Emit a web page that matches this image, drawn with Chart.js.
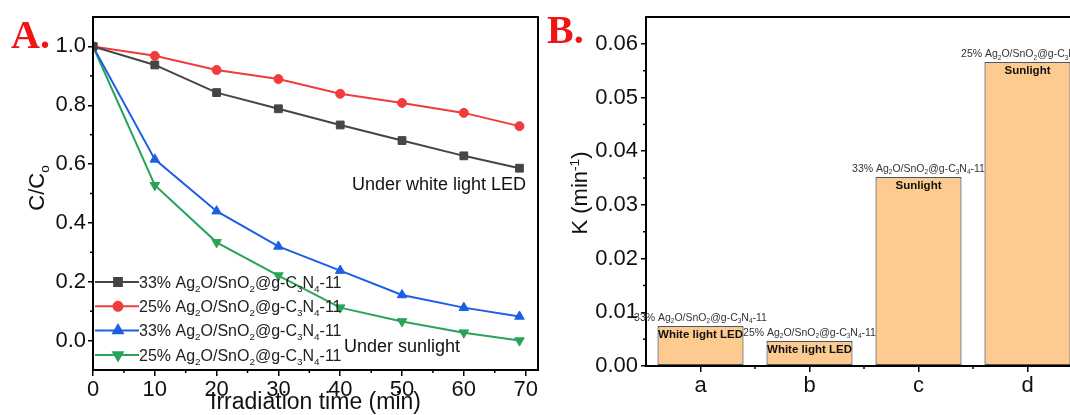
<!DOCTYPE html>
<html>
<head>
<meta charset="utf-8">
<script src="https://cdn.jsdelivr.net/npm/chart.js@4.4.0/dist/chart.umd.min.js"></script>
<style>
  html, body { margin: 0; padding: 0; background: #fff; overflow: hidden; }
  #wrap { position: relative; width: 1070px; height: 415px; overflow: hidden; background: #fff; }
  #chartA { position: absolute; left: 0; top: 0; }
  #chartB { position: absolute; left: 545px; top: 0; }
</style>
</head>
<body>
<div id="wrap">
  <canvas id="chartA" width="545" height="415"></canvas>
  <canvas id="chartB" width="545" height="415"></canvas>
</div>
<script>
// ---- panel A data (C/Co vs time) ----
const times = [0, 10, 20, 30, 40, 50, 60, 69];
const led33 = [1.0, 0.937, 0.843, 0.788, 0.733, 0.680, 0.628, 0.586];
const led25 = [1.0, 0.968, 0.920, 0.889, 0.839, 0.808, 0.774, 0.729];
const sun33 = [1.0, 0.616, 0.440, 0.320, 0.238, 0.155, 0.112, 0.082];
const sun25 = [1.0, 0.528, 0.334, 0.221, 0.112, 0.065, 0.027, 0.0];
const seriesNames = [
  '33% Ag_2O/SnO_2@g-C_3N_4-11',
  '25% Ag_2O/SnO_2@g-C_3N_4-11',
  '33% Ag_2O/SnO_2@g-C_3N_4-11',
  '25% Ag_2O/SnO_2@g-C_3N_4-11'
];
const xTicksA = [0, 10, 20, 30, 40, 50, 60, 70];
const yTicksA = [0.0, 0.2, 0.4, 0.6, 0.8, 1.0];

// ---- panel B data (rate constant K) ----
const catsB = ['a', 'b', 'c', 'd'];
const kValues = [0.00745, 0.00466, 0.0352, 0.0566];
const samplesB = [
  '33% Ag_2O/SnO_2@g-C_3N_4-11',
  '25% Ag_2O/SnO_2@g-C_3N_4-11',
  '33% Ag_2O/SnO_2@g-C_3N_4-11',
  '25% Ag_2O/SnO_2@g-C_3N_4-11'
];
const lightB = ['White light LED', 'White light LED', 'Sunlight', 'Sunlight'];
const yTicksB = [0.00, 0.01, 0.02, 0.03, 0.04, 0.05, 0.06];

// styles
const lineColors = ['#454545', '#f03c3c', '#1c5fe3', '#29a35a'];
const markers = ['rect', 'circle', 'triangle', 'triangle'];
const markerRot = [0, 0, 0, 180];
const markerSize = [5.5, 4.5, 5.5, 5.5];

const FAM = "'Liberation Sans', Arial, sans-serif";
Chart.defaults.font.family = FAM;
Chart.defaults.color = '#111';

// text with _x subscripts and ^{..} superscripts
function parseRich(str) {
  var parts = [];
  var buf = '';
  for (var i = 0; i < str.length; i++) {
    var c = str[i];
    if (c === '_') {
      if (buf) parts.push({t: buf, k: 0});
      buf = '';
      parts.push({t: str[i + 1], k: -1});
      i++;
    } else if (c === '^' && str[i + 1] === '{') {
      if (buf) parts.push({t: buf, k: 0});
      buf = '';
      var end = str.indexOf('}', i);
      parts.push({t: str.slice(i + 2, end), k: 1});
      i = end;
    } else {
      buf += c;
    }
  }
  if (buf) parts.push({t: buf, k: 0});
  return parts;
}

function drawRich(ctx, str, x, y, size, opt) {
  opt = opt || {};
  var weight = opt.bold ? 'bold ' : '';
  var small = size * 0.62;
  var parts = parseRich(str);
  var w = 0;
  parts.forEach(function (p) {
    ctx.font = weight + (p.k ? small : size) + 'px ' + FAM;
    p.w = ctx.measureText(p.t).width;
    w += p.w;
  });
  var cx = x;
  if (opt.align === 'center') cx = x - w / 2;
  if (opt.align === 'right') cx = x - w;
  var base = y + size * 0.36;
  ctx.fillStyle = opt.color || '#111';
  ctx.textAlign = 'left';
  ctx.textBaseline = 'alphabetic';
  parts.forEach(function (p) {
    ctx.font = weight + (p.k ? small : size) + 'px ' + FAM;
    var dy = 0;
    if (p.k === -1) dy = size * 0.25;
    if (p.k === 1) dy = -size * 0.38;
    ctx.fillText(p.t, cx, base + dy);
    cx += p.w;
  });
}

function marker(ctx, style, r, rot, x, y) {
  if (Chart.helpers && Chart.helpers.drawPoint) {
    Chart.helpers.drawPoint(ctx, {pointStyle: style, radius: r, rotation: rot, borderWidth: 1}, x, y);
  } else {
    ctx.beginPath(); ctx.arc(x, y, r, 0, Math.PI * 2); ctx.fill();
  }
}

// small ticks half way between the big ones
const minorTicks = {
  id: 'minorTicks',
  afterDraw(chart) {
    const ctx = chart.ctx;
    ctx.save();
    ctx.strokeStyle = '#000';
    ctx.lineWidth = 1.5;
    ['x', 'y'].forEach(function (id) {
      const s = chart.scales[id];
      const px = s.ticks.map(function (t, i) { return s.getPixelForTick(i); });
      for (let i = 0; i < px.length - 1; i++) {
        const m = (px[i] + px[i + 1]) / 2;
        ctx.beginPath();
        if (id === 'x') { ctx.moveTo(m, s.top); ctx.lineTo(m, s.top + 3); }
        else { ctx.moveTo(s.right, m); ctx.lineTo(s.right - 3, m); }
        ctx.stroke();
      }
    });
    ctx.restore();
  }
};

const extrasA = {
  id: 'extrasA',
  afterDraw(chart) {
    const ctx = chart.ctx, a = chart.chartArea;
    const xs = chart.scales.x, ys = chart.scales.y;
    ctx.save();
    ctx.strokeStyle = '#000';
    ctx.lineWidth = 2;
    ctx.strokeRect(a.left, a.top, a.right - a.left, a.bottom - a.top);

    // legend in lower left
    seriesNames.forEach(function (name, i) {
      const y = a.bottom - 88 + i * 24.3;
      ctx.strokeStyle = lineColors[i];
      ctx.fillStyle = lineColors[i];
      ctx.lineWidth = 2;
      ctx.beginPath(); ctx.moveTo(a.left + 2, y); ctx.lineTo(a.left + 46, y); ctx.stroke();
      marker(ctx, markers[i], markerSize[i], markerRot[i], a.left + 25, y);
      drawRich(ctx, name, a.left + 46, y, 16, {color: '#222'});
    });

    drawRich(ctx, 'Under white light LED', xs.getPixelForValue(41.9), ys.getPixelForValue(0.535), 18, {color: '#111'});
    drawRich(ctx, 'Under sunlight', xs.getPixelForValue(40.6), ys.getPixelForValue(-0.017), 18, {color: '#111'});

    // axis titles
    drawRich(ctx, 'Irradiation time (min)', (a.left + a.right) / 2, 400.5, 23, {align: 'center'});
    ctx.save();
    ctx.translate(36, 188);
    ctx.rotate(-Math.PI / 2);
    drawRich(ctx, 'C/C_o', 0, 0, 22, {align: 'center'});
    ctx.restore();

    ctx.font = "bold 40px 'Liberation Serif', 'Times New Roman', serif";
    ctx.fillStyle = '#f01414';
    ctx.textAlign = 'left';
    ctx.textBaseline = 'alphabetic';
    ctx.fillText('A.', 11, 48);
    ctx.restore();
  }
};

const extrasB = {
  id: 'extrasB',
  afterDraw(chart) {
    const ctx = chart.ctx, a = chart.chartArea;
    ctx.save();
    ctx.strokeStyle = '#000';
    ctx.lineWidth = 2;
    ctx.strokeRect(a.left, a.top, a.right - a.left, a.bottom - a.top);

    const bars = chart.getDatasetMeta(0).data;
    bars.forEach(function (b, i) {
      drawRich(ctx, samplesB[i], b.x, b.y - 9, 10.5, {align: 'center', color: '#333'});
      drawRich(ctx, lightB[i], b.x, b.y + 8, 11.5, {align: 'center', bold: true, color: '#111'});
    });

    ctx.save();
    ctx.translate(34, 193);
    ctx.rotate(-Math.PI / 2);
    drawRich(ctx, 'K (min^{-1})', 0, 0, 22, {align: 'center'});
    ctx.restore();

    ctx.font = "bold 40px 'Liberation Serif', 'Times New Roman', serif";
    ctx.fillStyle = '#f01414';
    ctx.textAlign = 'left';
    ctx.textBaseline = 'alphabetic';
    ctx.fillText('B.', 2, 43);
    ctx.restore();
  }
};

function pts(ys) {
  return times.map(function (t, i) { return {x: t, y: ys[i]}; });
}

const seriesA = [led33, led25, sun33, sun25];

const chartA = new Chart(document.getElementById('chartA').getContext('2d'), {
  type: 'line',
  data: {
    datasets: seriesA.map(function (ys, i) {
      return {
        label: seriesNames[i],
        data: pts(ys),
        borderColor: lineColors[i],
        backgroundColor: lineColors[i],
        borderWidth: 2,
        pointStyle: markers[i],
        pointRotation: markerRot[i],
        pointRadius: markerSize[i],
        pointBorderWidth: 1,
        tension: 0
      };
    })
  },
  options: {
    responsive: false,
    devicePixelRatio: 1,
    animation: false,
    layout: { padding: { left: 0, top: 17, right: 7, bottom: 0 } },
    plugins: { legend: { display: false }, tooltip: { enabled: false } },
    scales: {
      x: {
        type: 'linear',
        min: 0,
        max: 72,
        afterBuildTicks: function (s) { s.ticks = xTicksA.map(function (v) { return {value: v}; }); },
        afterFit: function (s) { s.height = 45; },
        grid: { drawOnChartArea: false, color: '#000', lineWidth: 1.5, tickLength: 6 },
        border: { color: '#000', width: 2 },
        ticks: { font: { size: 22 }, color: '#111', padding: 1, maxRotation: 0 }
      },
      y: {
        type: 'linear',
        min: -0.1,
        max: 1.1,
        afterBuildTicks: function (s) { s.ticks = yTicksA.map(function (v) { return {value: v}; }); },
        afterFit: function (s) { s.width = 93; },
        grid: { drawOnChartArea: false, color: '#000', lineWidth: 1.5, tickLength: 5 },
        border: { color: '#000', width: 2 },
        ticks: { font: { size: 22 }, color: '#111', padding: 2, callback: function (v) { return v.toFixed(1); } }
      }
    }
  },
  plugins: [minorTicks, extrasA]
});

const chartB = new Chart(document.getElementById('chartB').getContext('2d'), {
  type: 'bar',
  data: {
    labels: catsB,
    datasets: [{
      data: kValues,
      backgroundColor: '#fdca8f',
      borderColor: '#555',
      borderWidth: 1.2,
      borderSkipped: false,
      barPercentage: 0.79,
      categoryPercentage: 1
    }]
  },
  options: {
    responsive: false,
    devicePixelRatio: 1,
    animation: false,
    layout: { padding: { left: 0, top: 17, right: 8, bottom: 0 } },
    plugins: { legend: { display: false }, tooltip: { enabled: false } },
    scales: {
      x: {
        afterFit: function (s) { s.height = 49; },
        grid: { offset: false, drawOnChartArea: false, color: '#000', lineWidth: 1.5, tickLength: 6 },
        border: { color: '#000', width: 2 },
        ticks: { font: { size: 22 }, color: '#111', padding: 1 }
      },
      y: {
        min: 0,
        max: 0.065,
        afterBuildTicks: function (s) { s.ticks = yTicksB.map(function (v) { return {value: v}; }); },
        afterFit: function (s) { s.width = 101; },
        grid: { drawOnChartArea: false, color: '#000', lineWidth: 1.5, tickLength: 5 },
        border: { color: '#000', width: 2 },
        ticks: { font: { size: 22 }, color: '#111', padding: 3, callback: function (v) { return v.toFixed(2); } }
      }
    }
  },
  plugins: [minorTicks, extrasB]
});
</script>
</body>
</html>
